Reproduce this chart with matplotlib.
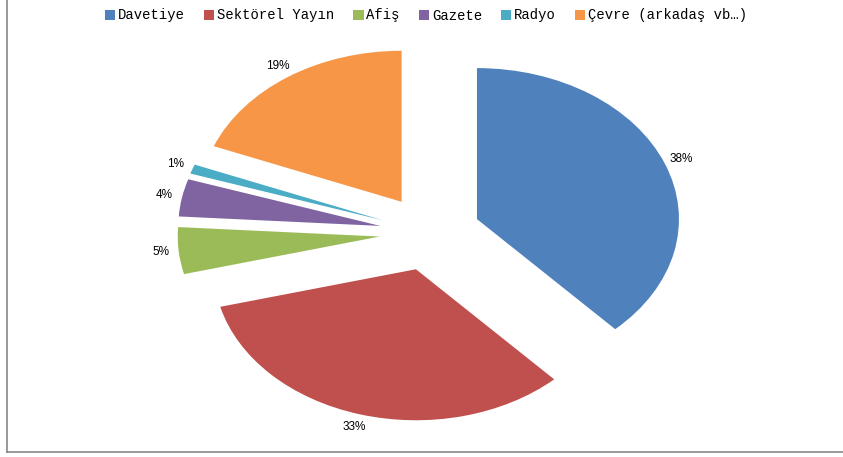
import matplotlib
matplotlib.use("Agg")
import matplotlib.pyplot as plt
from matplotlib.lines import Line2D

categories = ["Davetiye", "Sektörel Yayın", "Afiş", "Gazete", "Radyo", "Çevre (arkadaş vb…)"]
values = [38, 33, 5, 4, 1, 19]
colors = ["#4F81BD", "#C0504D", "#9BBB59", "#8064A2", "#4BACC6", "#F79646"]
explode = [0.25] * len(values)

W, H = 843, 457
fig = plt.figure(figsize=(W / 100, H / 100), dpi=100)
ax = fig.add_axes([0, 0, 1, 1])

wedges, texts, autotexts = ax.pie(
    values, colors=colors, explode=explode, startangle=90, counterclock=False,
    autopct=lambda p: f"{p:.0f}%", pctdistance=1.09, radius=1,
    wedgeprops=dict(linewidth=0),
    textprops=dict(fontsize=8.5, family="Liberation Sans", color="black"),
)

# elliptical appearance: rx=202 px, ry=151 px, center at (430, 233) px from top-left
rx, ry, cx, cy = 202, 151, 430, 233
ax.set_aspect("auto")
ax.set_xlim(-cx / rx, (W - cx) / rx)
ax.set_ylim(-(H - cy) / ry, cy / ry)
ax.axis("off")

leg = fig.legend(
    wedges, categories, loc="center", bbox_to_anchor=(426 / W, 1 - 15.5 / H),
    ncol=6, frameon=False, handlelength=0.75, handleheight=0.75,
    handletextpad=0.2, columnspacing=1.35, borderpad=0,
    prop=dict(family="Liberation Mono", size=10),
)

# figure border (left and bottom)
bx, by = 7 / W, 1 - 452 / H
fig.add_artist(Line2D([bx, bx], [by, 1], transform=fig.transFigure, color="#888888", lw=1.2))
fig.add_artist(Line2D([bx, 1], [by, by], transform=fig.transFigure, color="#888888", lw=1.2))

fig.savefig("out.png", dpi=100)
